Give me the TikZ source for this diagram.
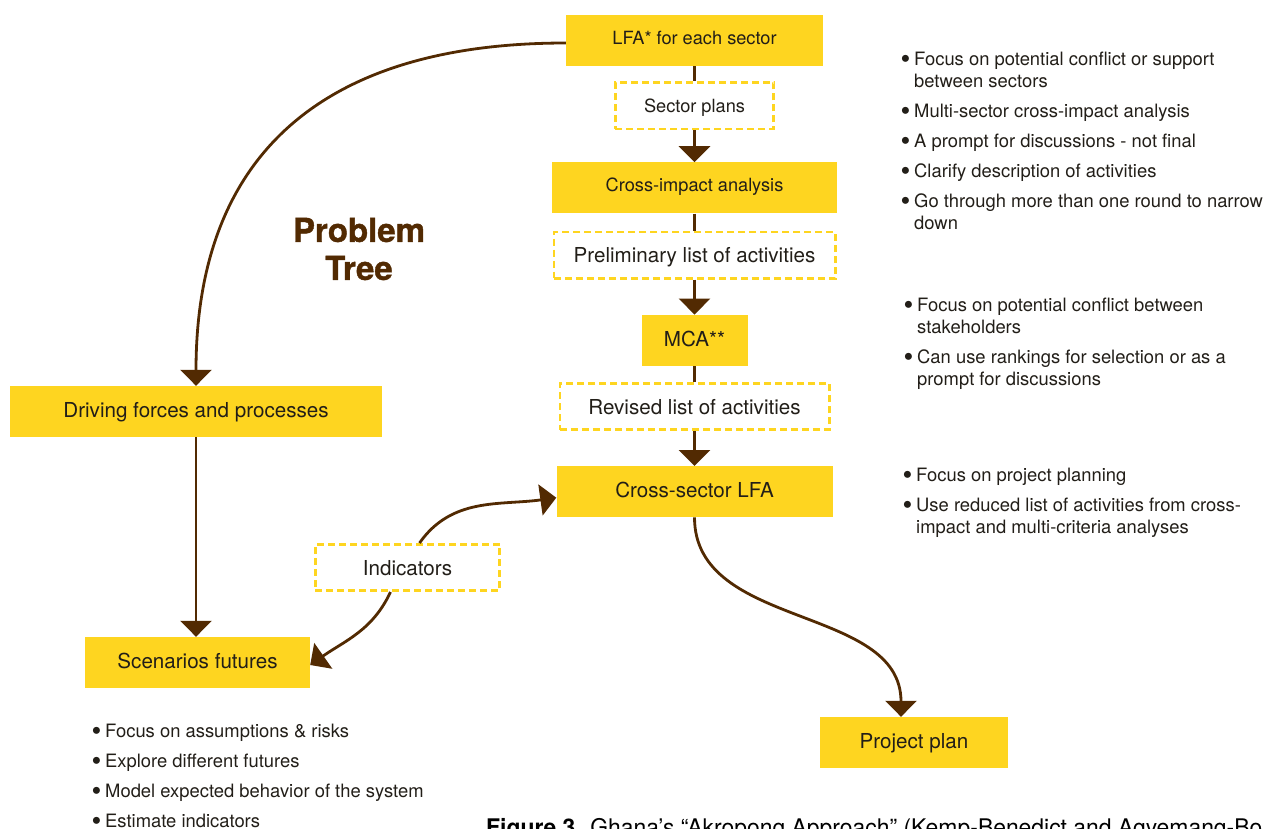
\documentclass[tikz,border=0pt]{standalone}
\usepackage{fontspec}
\setmainfont{TeX Gyre Heros}
\newfontfamily\heavyfont[BoldFeatures={FakeBold=1.2}]{TeX Gyre Heros}
\usepackage{xcolor}
\usepackage{tikz}
\usetikzlibrary{positioning,calc,arrows.meta}

\definecolor{boxyellow}{RGB}{254,213,32}
\definecolor{arrowbrown}{RGB}{82,42,2}
\definecolor{textdark}{RGB}{34,30,24}

\newcommand{\bitem}{\makebox[11pt][l]{\hspace*{-2.5pt}\raisebox{-3.2pt}{\fontsize{28}{22}\selectfont\textbullet}}}
\newcommand{\bcont}{\hspace*{11pt}}

\begin{document}
\begin{tikzpicture}[x=1pt, y=1pt,
    box/.style={fill=boxyellow, inner sep=0pt, minimum height=51pt, text=textdark, font=\fontsize{20.6}{25}\selectfont, text height=15pt, text depth=3pt},
    sbox/.style={box, font=\fontsize{18.2}{22}\selectfont, text height=13pt, text depth=5pt},
    dbox/.style={draw=boxyellow, line width=2.6pt, dash pattern=on 7pt off 4pt, inner sep=0pt, minimum height=46.4pt, text=textdark, font=\fontsize{20.6}{25}\selectfont, text height=15pt, text depth=0pt},
    sdbox/.style={dbox, font=\fontsize{18.2}{22}\selectfont, text height=13pt},
    link/.style={draw=arrowbrown, line width=2.8pt},
    arr/.style={link, -{Triangle[width=31pt,length=16pt]}},
    blist/.style={anchor=north west, inner sep=0pt, align=left, text=textdark, font=\fontsize{18.4}{22}\selectfont}
  ]
  \useasboundingbox (0,0) rectangle (1265,-828);

  % main column
  \node [sbox, minimum width=257pt] (lfa) at (694.5,-40.5) {LFA* for each sector};
  \node [sdbox, minimum width=158.4pt, below=15pt of lfa] (sp) {Sector plans};
  \node [sbox, minimum width=285pt, below=32pt of sp] (cia) {Cross-impact analysis};
  \node [dbox, minimum width=281.4pt, below=17pt of cia] (pla) {Preliminary list of activities};
  \node [box, minimum width=106pt, below=35pt of pla] (mca) {MCA**};
  \node [dbox, minimum width=269.4pt, below=16pt of mca] (rla) {Revised list of activities};
  \node [box, minimum width=276pt, below=35pt of rla] (csl) {Cross-sector LFA};

  % left side
  \node [box, minimum width=372pt] (dfp) at (196,-411.5) {Driving forces and processes};
  \node [box, minimum width=225pt] (sf) at (197.5,-662.5) {Scenarios futures};
  \node [dbox, minimum width=184.4pt] (ind) at (407.5,-567.5) {Indicators};
  \node [box, minimum width=188pt] (pp) at (914,-742.5) {Project plan};

  \node [text=arrowbrown, align=center, font=\fontsize{33}{38}\selectfont\heavyfont\bfseries] (ptree) at (359,-249) {Problem\\Tree};

  % connectors
  \draw [link] (lfa) -- (sp);
  \draw [arr] (sp) -- (cia);
  \draw [link] (cia) -- (pla);
  \draw [arr] (pla) -- (mca);
  \draw [link] (mca) -- (rla);
  \draw [arr] (rla) -- (csl);
  \draw [arr] ([yshift=-2.5pt]lfa.west) to[out=180, in=90, looseness=1.2] (dfp.north);
  \draw [arr] (dfp.south) -- (dfp.south |- sf.north);
  \draw [arr] ([xshift=12pt]ind.north) to[out=55, in=188] ([yshift=-6pt]csl.west);
  \draw [arr] ([xshift=-17pt]ind.south) to[out=-115, in=35] ([yshift=-2.5pt]sf.east);
  \draw [arr] (csl.south) to[out=-90, in=90] ([xshift=-13pt]pp.north);

  % notes
  \node [blist] (notesa) at (903,-51.5) {\bitem Focus on potential conflict or support\\ \bcont between sectors\\[8pt]
    \bitem Multi-sector cross-impact analysis\\[8pt]
    \bitem A prompt for discussions - not final\\[8pt]
    \bitem Clarify description of activities\\[8pt]
    \bitem Go through more than one round to narrow\\ \bcont down};
  \node [blist] (notesb) at (906,-298) {\bitem Focus on potential conflict between\\ \bcont stakeholders\\[8pt]
    \bitem Can use rankings for selection or as a\\ \bcont prompt for discussions};
  \node [blist] (notesc) at (905,-468) {\bitem Focus on project planning\\[8pt]
    \bitem Use reduced list of activities from cross-\\ \bcont impact and multi-criteria analyses};
  \node [blist] (notesd) at (94,-724) {\bitem Focus on assumptions \& risks\\[8pt]
    \bitem Explore different futures\\[8pt]
    \bitem Model expected behavior of the system\\[8pt]
    \bitem Estimate indicators};

  \begin{scope}
    \clip (0,0) rectangle (1265,-828);
    \node [anchor=base west, inner sep=0pt, text=black, font=\fontsize{22.9}{27}\selectfont] (caption) at (486,-835) {\textbf{Figure 3.} Ghana’s “Akropong Approach” (Kemp-Benedict and Agyemang-Bo};
  \end{scope}
\end{tikzpicture}
\end{document}
